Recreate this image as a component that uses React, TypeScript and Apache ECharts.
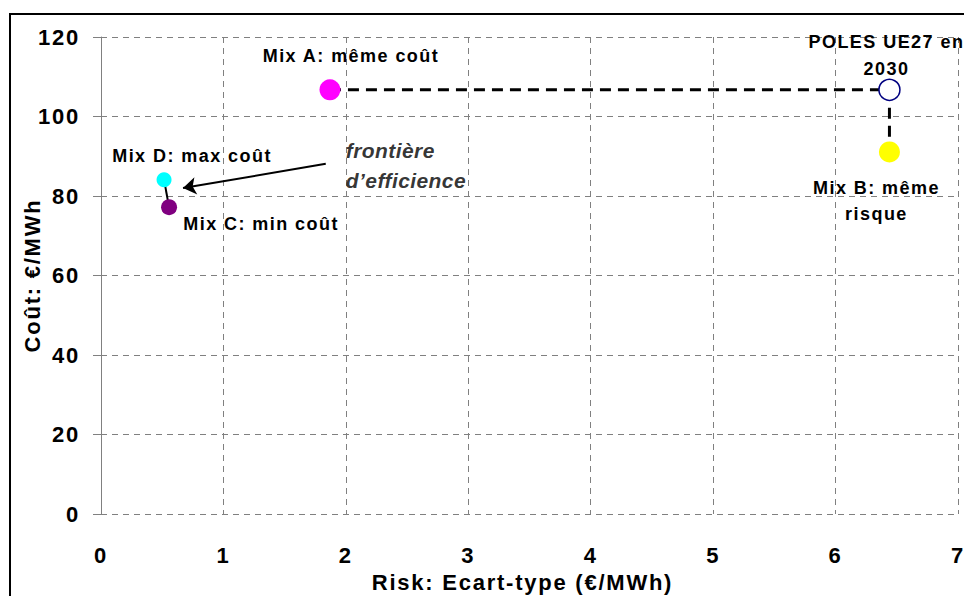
import React, { useEffect, useRef } from "react";
import * as echarts from "echarts";

// ---- data ----
const xTicks = [0, 1, 2, 3, 4, 5, 6, 7];
const yTicks = [0, 20, 40, 60, 80, 100, 120];
const mixNames = [
  "Mix A: même coût",
  "POLES UE27 en\n2030",
  "Mix B: même\nrisque",
  "Mix D: max coût",
  "Mix C: min coût",
];
const riskValues = [1.87, 6.44, 6.44, 0.515, 0.556];
const costValues = [106.7, 106.7, 91.1, 84.1, 77.2];
const annotationText = "frontière\nd’efficience";
const annotationPoint = [2.0, 87.7];
const arrowFrom = [1.836, 88.1];
const arrowTo = [0.67, 82.0];
const xAxisTitle = "Risk: Ecart-type (€/MWh)";
const yAxisTitle = "Coût: €/MWh";

// ---- styles (kept apart from data) ----
const pointFill = ["#FF00FF", "#FFFFFF", "#FFFF00", "#00FFFF", "#800080"];
const pointBorder = ["#FF00FF", "#000080", "#FFFF00", "#00FFFF", "#800080"];
const pointSize = [21, 21, 21, 15, 16];
const labelOffset = [
  [21, -34],
  [-3, -34],
  [-13, 49],
  [28, -24],
  [92, 17],
];
const labelLineHeight = [20, 27, 26, 20, 20];

const FONT = "'Liberation Sans', Arial, sans-serif";

export default function App() {
  const ref = useRef<HTMLDivElement>(null);

  useEffect(() => {
    if (!ref.current) return;
    const chart = echarts.init(ref.current, undefined, { renderer: "svg" });

    const pt = (i: number) => [riskValues[i], costValues[i]];

    const option: any = {
      animation: false,
      backgroundColor: "#FFFFFF",
      textStyle: { fontFamily: FONT },
      graphic: [
        {
          type: "rect",
          shape: { x: 10, y: 14, width: 1000, height: 1000 },
          style: { fill: "none", stroke: "#000000", lineWidth: 2 },
          silent: true,
          z: 100,
        },
      ],
      grid: {
        left: 101,
        right: 6,
        top: 37,
        bottom: 82,
        containLabel: false,
        outerBoundsMode: "none",
      },
      xAxis: {
        type: "value",
        min: xTicks[0],
        max: xTicks[xTicks.length - 1],
        interval: 1,
        name: xAxisTitle,
        nameLocation: "middle",
        nameGap: 57,
        nameMoveOverlap: false,
        nameTextStyle: {
          fontFamily: FONT,
          fontWeight: "bold",
          fontSize: 22,
          color: "#000",
          padding: [0, 14, 0, 0],
        },
        axisLine: { show: false },
        axisTick: { show: false },
        axisLabel: {
          fontFamily: FONT,
          fontWeight: "bold",
          fontSize: 22,
          color: "#000",
          margin: 30,
        },
        splitLine: {
          show: true,
          lineStyle: { color: "#808080", width: 1, type: [6, 5] },
        },
      },
      yAxis: {
        type: "value",
        min: yTicks[0],
        max: yTicks[yTicks.length - 1],
        interval: 20,
        name: yAxisTitle,
        nameLocation: "middle",
        nameGap: 58,
        nameMoveOverlap: false,
        nameTextStyle: {
          fontFamily: FONT,
          fontWeight: "bold",
          fontSize: 22,
          color: "#000",
        },
        axisLine: { show: true, lineStyle: { color: "#808080", width: 1 } },
        axisTick: {
          show: true,
          inside: false,
          length: 8,
          lineStyle: { color: "#808080", width: 1 },
        },
        axisLabel: {
          fontFamily: FONT,
          fontWeight: "bold",
          fontSize: 22,
          color: "#000",
          margin: 21,
        },
        splitLine: {
          show: true,
          lineStyle: { color: "#808080", width: 1, type: [6, 5] },
        },
      },
      series: [
        {
          name: "sameCost",
          type: "line",
          data: [pt(0), pt(1)],
          symbol: "none",
          lineStyle: { color: "#000", width: 3, type: [11, 7] },
          z: 2,
        },
        {
          name: "sameRisk",
          type: "line",
          data: [pt(1), pt(2)],
          symbol: "none",
          lineStyle: { color: "#000", width: 3, type: [11, 7] },
          z: 2,
        },
        {
          name: "frontier",
          type: "line",
          data: [pt(3), pt(4)],
          symbol: "none",
          lineStyle: { color: "#000", width: 2 },
          z: 2,
        },
        {
          name: "mixes",
          type: "scatter",
          z: 5,
          data: mixNames.map((n, i) => ({
            name: n,
            value: pt(i),
            symbolSize: pointSize[i],
            itemStyle: {
              color: pointFill[i],
              borderColor: pointBorder[i],
              borderWidth: i === 1 ? 1.5 : 0,
              opacity: 1,
            },
            label: {
              show: true,
              position: "inside",
              formatter: n,
              offset: labelOffset[i],
              align: "center",
              verticalAlign: "middle",
              lineHeight: labelLineHeight[i],
              fontFamily: FONT,
              fontWeight: "bold",
              fontSize: 18,
              color: "#000",
            },
          })),
        },
        {
          name: "annotation",
          type: "scatter",
          z: 6,
          symbolSize: 0,
          data: [
            {
              value: annotationPoint,
              label: {
                show: true,
                position: "inside",
                formatter: annotationText,
                align: "left",
                verticalAlign: "middle",
                lineHeight: 30,
                fontFamily: FONT,
                fontWeight: "bold",
                fontStyle: "italic",
                fontSize: 21,
                color: "#000",
              },
            },
          ],
          markLine: {
            silent: true,
            symbol: ["none", "arrow"],
            symbolSize: 13,
            label: { show: false },
            lineStyle: { color: "#000", width: 2, type: "solid" },
            data: [[{ coord: arrowFrom }, { coord: arrowTo }]],
          },
        },
      ],
    };

    chart.setOption(option);
    return () => chart.dispose();
  }, []);

  return (
    <>
      <style>{`
        .chartbox text { letter-spacing: 0.08em; }
        .chartbox text[style*="italic"], .chartbox text[font-style="italic"] { letter-spacing: 0.02em; }
      `}</style>
      <div
        className="chartbox"
        ref={ref}
        style={{ position: "absolute", left: 0, top: 0, width: 964, height: 596 }}
      />
    </>
  );
}
